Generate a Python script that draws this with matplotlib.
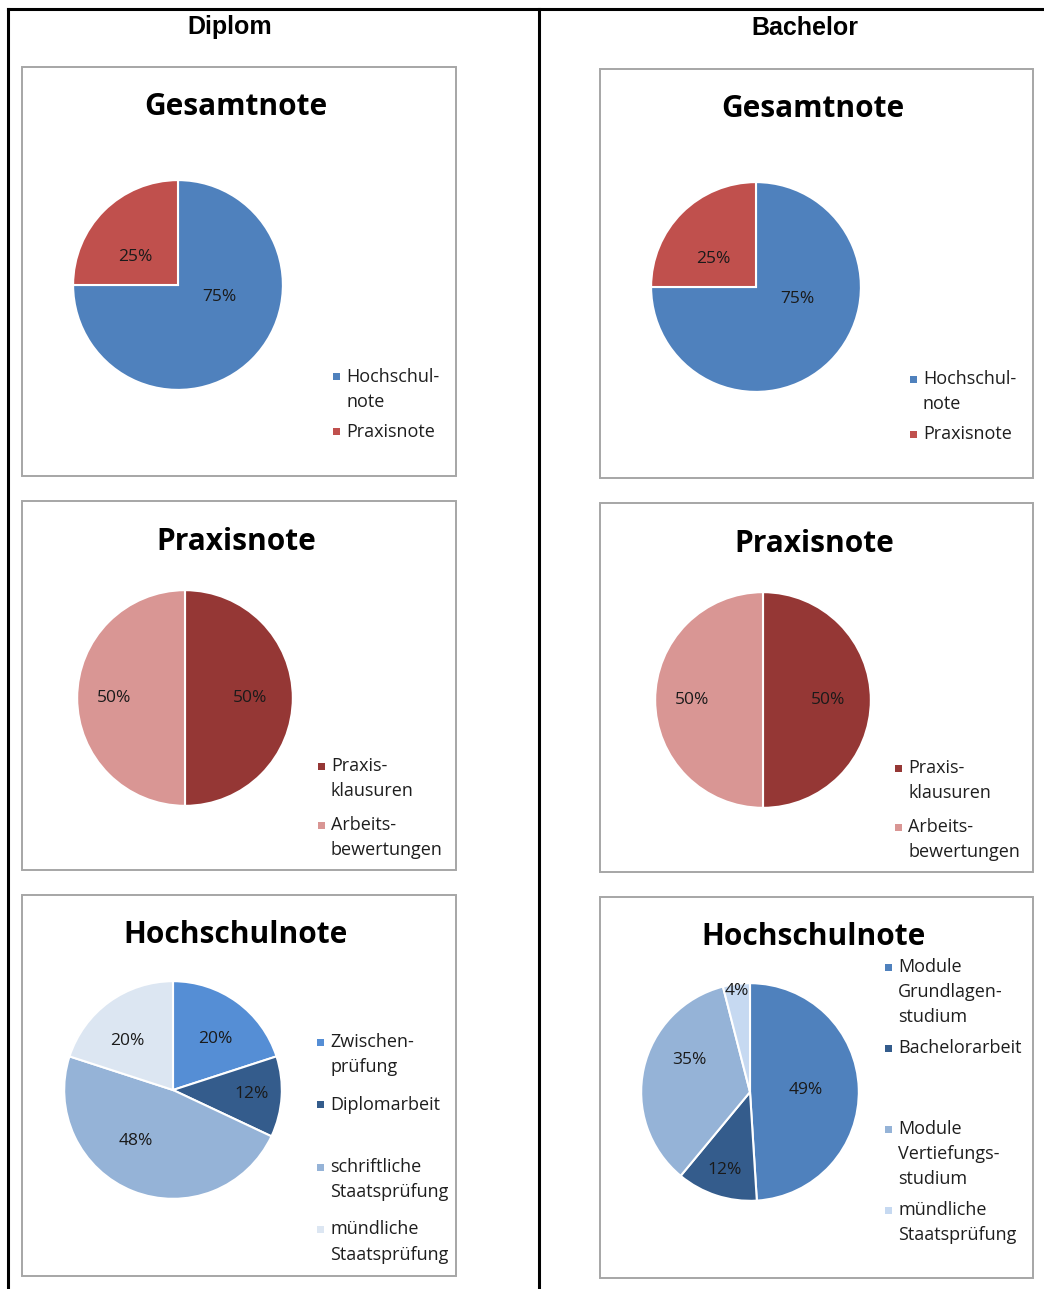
import numpy as np
import matplotlib.pyplot as plt
from matplotlib.patches import Rectangle
from matplotlib.lines import Line2D

# Data
columns = ["Diplom", "Bachelor"]
titles = ["Gesamtnote", "Praxisnote", "Hochschulnote"]

gesamt_labels = ["Hochschul-\nnote", "Praxisnote"]
gesamt_values = [75, 25]
gesamt_colors = ["#4F81BD", "#C0504D"]

praxis_labels = ["Praxis-\nklausuren", "Arbeits-\nbewertungen"]
praxis_values = [50, 50]
praxis_colors = ["#953735", "#D99694"]

diplom_hs_labels = ["Zwischen-\nprüfung", "Diplomarbeit", "schriftliche\nStaatsprüfung",
                    "mündliche\nStaatsprüfung"]
diplom_hs_values = [20, 12, 48, 20]
diplom_hs_colors = ["#558ED5", "#345C8C", "#95B3D7", "#DCE6F2"]

bachelor_hs_labels = ["Module\nGrundlagen-\nstudium", "Bachelorarbeit",
                      "Module\nVertiefungs-\nstudium", "mündliche\nStaatsprüfung"]
bachelor_hs_values = [49, 12, 35, 4]
bachelor_hs_colors = ["#4F81BD", "#345C8C", "#95B3D7", "#C6D9F1"]

W, H = 1044, 1289
FONT = "Open Sans"

fig = plt.figure(figsize=(W / 100, H / 100), dpi=100)


def fx(x):
    return x / W


def fy(y):
    return 1 - y / H


# outer frame lines
for xs, ys in [((8, W), (9, 9)), ((8, 8), (9, H)), ((539, 539), (9, H))]:
    fig.add_artist(Line2D([fx(v) for v in xs], [fy(v) for v in ys],
                          color="black", lw=2.2, transform=fig.transFigure))

fig.text(fx(230), fy(27), columns[0], ha="center", va="center",
         fontsize=18, fontweight="bold", family="Liberation Sans")
fig.text(fx(805), fy(28), columns[1], ha="center", va="center",
         fontsize=18, fontweight="bold", family="Liberation Sans")


def panel(box, title_xy, center, radius, values, colors, labels,
          pct_pos, legend_xy, slot):
    x0, y0, x1, y1 = box
    fig.add_artist(Rectangle((fx(x0), fy(y1)), fx(x1) - fx(x0), fy(y0) - fy(y1),
                             transform=fig.transFigure, fill=False,
                             edgecolor="#A6A6A6", lw=1.4))
    fig.text(fx(title_xy[0]), fy(title_xy[1]), title_xy[2], ha="center", va="center",
             fontsize=21.5, fontweight="bold", family=FONT)

    cx, cy = center
    ax = fig.add_axes([fx(cx - radius), fy(cy + radius), 2 * radius / W, 2 * radius / H])
    wedges, _ = ax.pie(values, colors=colors, startangle=90, counterclock=False,
                       radius=1, wedgeprops=dict(edgecolor="white", linewidth=1.5))
    ax.set_xlim(-1.02, 1.02)
    ax.set_ylim(-1.02, 1.02)
    ax.set_aspect("auto")
    ax.axis("off")
    # percentage labels: distance from centre and angular shift from the wedge middle
    for w, v, (d, shift) in zip(wedges, values, pct_pos):
        ang = np.deg2rad((w.theta1 + w.theta2) / 2 + shift)
        ax.text(d * np.cos(ang), d * np.sin(ang), f"{v}%", ha="center", va="center",
                fontsize=12.5, family=FONT, color="#1a1a1a")

    # legend, entries spread evenly like Excel does
    mx, ty = legend_xy
    for i, (lab, col) in enumerate(zip(labels, colors)):
        y = ty + i * slot
        fig.add_artist(Rectangle((fx(mx - 3.5), fy(y + 3.5)), 7 / W, 7 / H,
                                 transform=fig.transFigure, color=col, lw=0))
        for j, line in enumerate(lab.split("\n")):
            fig.text(fx(mx + 10), fy(y + j * 25), line, ha="left", va="center",
                     fontsize=13, family=FONT, color="#1e1e1e")


L, R = (22, 456), (600, 1033)
gesamt_pos = [(0.41, 29), (0.49, 11.6)]
praxis_pos = [(0.6, 0), (0.66, 0)]

panel((L[0], 67, L[1], 476), (236, 107, titles[0]), (178, 285), 107,
      gesamt_values, gesamt_colors, gesamt_labels, gesamt_pos, (336, 377), 55)
panel((R[0], 69, R[1], 478), (813, 109, titles[0]), (756, 287), 107,
      gesamt_values, gesamt_colors, gesamt_labels, gesamt_pos, (913, 379), 55)

panel((L[0], 501, L[1], 870), (236, 542, titles[1]), (185, 698), 110,
      praxis_values, praxis_colors, praxis_labels, praxis_pos, (321, 766), 59)
panel((R[0], 503, R[1], 872), (814, 544, titles[1]), (763, 700), 110,
      praxis_values, praxis_colors, praxis_labels, praxis_pos, (898, 768), 59)

panel((L[0], 895, L[1], 1276), (236, 935, titles[2]), (173, 1090), 111,
      diplom_hs_values, diplom_hs_colors, diplom_hs_labels,
      [(0.61, -3.6), (0.72, 0.7), (0.58, -14.6), (0.62, 7.2)], (320, 1042), 62.5)
panel((R[0], 897, R[1], 1278), (813, 937, titles[2]), (750, 1092), 111,
      bachelor_hs_values, bachelor_hs_colors, bachelor_hs_labels,
      [(0.51, 0), (0.75, 0), (0.63, -15.4), (0.94, 0)], (888, 967), 81)

fig.savefig("out.png", dpi=100)
